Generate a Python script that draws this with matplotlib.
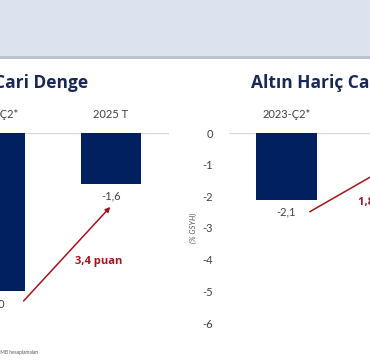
import numpy as np
import matplotlib
matplotlib.use('Agg')
import matplotlib.pyplot as plt
from matplotlib.patches import Rectangle

plt.rcParams['font.family'] = ['Lato', 'DejaVu Sans']
plt.rcParams['axes.unicode_minus'] = False

# ------------------------------- DATA ----------------------------------------
categories = ['2023-Ç2*', '2025 T']
cari_denge = [-5.0, -1.6]          # Cari Denge (% GSYH)
altin_haric = [-2.1, -0.3]         # Altın Hariç Cari Denge (% GSYH)
yticks = [0, -1, -2, -3, -4, -5, -6]
change_left = '3,4 puan'
change_right = '1,8 puan'

NAVY = '#002060'
RED = '#a0141e'
TXT = '#404040'
TITLE = '#1a2856'
BOLD_FONT = ['Open Sans', 'DejaVu Sans']

W, H = 370, 360
fig = plt.figure(figsize=(W / 100, H / 100), dpi=100)


def px_box(x0, y0, x1, y1):
    # pixel box (top-left origin) -> figure fraction [l, b, w, h]
    return [x0 / W, 1 - y1 / H, (x1 - x0) / W, (y1 - y0) / H]


# top band of the slide
fig.patches.append(Rectangle((0, 1 - 56 / H), 1, 56 / H, transform=fig.transFigure,
                             facecolor='#dce3ef', edgecolor='none', zorder=0))
fig.patches.append(Rectangle((0, 1 - 58.5 / H), 1, 2.5 / H, transform=fig.transFigure,
                             facecolor='#bcc3cf', edgecolor='none', zorder=0))

ax1 = fig.add_axes(px_box(-63, 133, 169, 323))
ax2 = fig.add_axes(px_box(228.5, 133, 460.5, 323))

x = np.arange(len(categories))
for ax, vals in [(ax1, cari_denge), (ax2, altin_haric)]:
    ax.bar(x, vals, width=0.52, color=NAVY, zorder=2)
    ax.axhline(0, color='#d9d9d9', lw=1, zorder=1)
    ax.set_xlim(-0.5, 1.5)
    ax.set_ylim(-6, 0)
    for s in ax.spines.values():
        s.set_visible(False)
    ax.set_xticks([])
    for xi, v, c in zip(x, vals, categories):
        ax.text(xi, 0.58, c, ha='center', va='center', fontsize=8,
                color=TXT, clip_on=False)
        ax.text(xi, v - 0.4, f'{v:.1f}'.replace('.', ','), ha='center',
                va='center', fontsize=8, color=TXT, clip_on=False)

ax1.set_yticks([])
ax2.set_yticks(yticks)
ax2.set_yticklabels([str(t) for t in yticks], fontsize=8, color=TXT)
ax2.tick_params(axis='y', length=0, pad=11)
ax2.set_ylabel('(% GSYH)', fontsize=5.5, color='#595959', style='italic',
               labelpad=4)

# change arrows
ax1.annotate('', xy=(1.01, -2.27), xytext=(0.23, -5.37),
             arrowprops=dict(arrowstyle='-|>', color=RED, lw=1.1,
                             mutation_scale=7), annotation_clip=False)
ax1.text(0.89, -4.07, change_left, ha='center', va='center', fontsize=8,
         fontweight='bold', color=RED, family=BOLD_FONT, clip_on=False)
ax2.annotate('', xy=(0.98, -0.85), xytext=(0.18, -2.53),
             arrowprops=dict(arrowstyle='-|>', color=RED, lw=1.1,
                             mutation_scale=7), annotation_clip=False)
ax2.text(0.615, -2.18, change_right, ha='left', va='center', fontsize=8,
         fontweight='bold', color=RED, family=BOLD_FONT, clip_on=False)

# titles
fig.text(-6 / W, 1 - 83 / H, 'Cari Denge', ha='left', va='center', fontsize=12.5,
         fontweight='bold', color=TITLE, family=BOLD_FONT)
fig.text(251 / W, 1 - 83 / H, 'Altın Hariç Cari Denge', ha='left', va='center',
         fontsize=12.5, fontweight='bold', color=TITLE, family=BOLD_FONT)

# footnote
fig.text(38 / W, 1 - 352 / H, 'Kaynak: TCMB, TÜİK ve TCMB hesaplamaları',
         ha='right', va='center', fontsize=3.5, color='#595959')

fig.savefig('out.png', dpi=100)
